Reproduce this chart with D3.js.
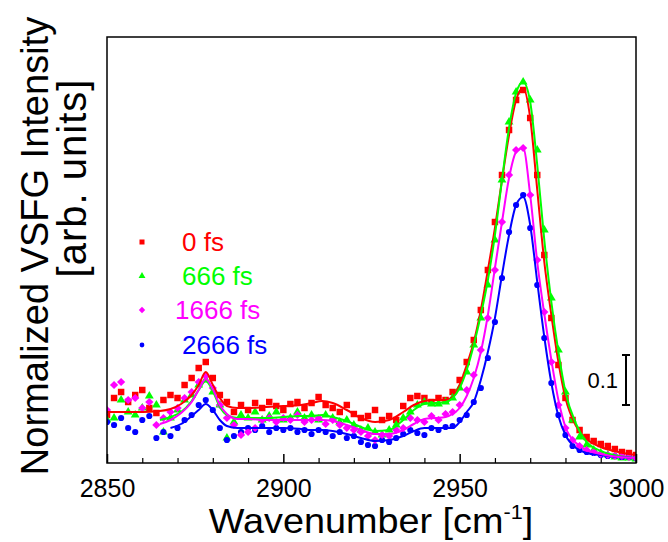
<!DOCTYPE html>
<html>
<head>
<meta charset="utf-8">
<script src="https://cdn.jsdelivr.net/npm/d3@7/dist/d3.min.js"></script>
<style>
  body { margin: 0; background: #fff; }
  text { font-family: Arial, "Liberation Sans", sans-serif; }
</style>
</head>
<body>
<div id="chart"></div>
<script>
// measured points, wavenumber in cm^-1
const pointWn = [2850, 2852, 2854, 2856, 2858, 2860, 2862, 2864, 2866, 2868, 2870, 2872, 2874, 2876, 2878, 2880,
  2882, 2884, 2886, 2888, 2890, 2892, 2894, 2896, 2898, 2900, 2902, 2904, 2906, 2908, 2910, 2912, 2914, 2916,
  2918, 2920, 2922, 2924, 2926, 2928, 2930, 2932, 2934, 2936, 2938, 2940, 2942, 2944, 2946, 2948, 2950, 2952,
  2954, 2956, 2958, 2960, 2962, 2964, 2966, 2968, 2970, 2972, 2974, 2976, 2978, 2980, 2982, 2984, 2986, 2988,
  2990, 2992, 2994, 2996, 2998, 3000];

const pts0 = [0.096, 0.130, 0.142, 0.122, 0.136, 0.146, 0.110, 0.100, 0.126, 0.136, 0.130, 0.156, 0.170, 0.190, 0.202, 0.170,
  0.136, 0.122, 0.102, 0.116, 0.106, 0.120, 0.110, 0.122, 0.114, 0.106, 0.118, 0.122, 0.110, 0.120, 0.132, 0.116, 0.110, 0.102,
  0.116, 0.098, 0.090, 0.094, 0.106, 0.086, 0.094, 0.086, 0.114, 0.130, 0.134, 0.130, 0.122, 0.130, 0.126, 0.142, 0.166, 0.202,
  0.246, 0.306, 0.386, 0.482, 0.576, 0.666, 0.726, 0.746, 0.690, 0.576, 0.416, 0.290, 0.196, 0.130, 0.086, 0.066, 0.052, 0.044,
  0.038, 0.034, 0.028, 0.022, 0.020, 0.016];

const pts666 = [0.086, 0.090, 0.126, 0.102, 0.096, 0.110, 0.134, 0.116, 0.062, 0.090, 0.106, 0.126, 0.136, 0.156, 0.166, 0.142,
  0.116, 0.050, 0.082, 0.096, 0.090, 0.102, 0.086, 0.094, 0.102, 0.086, 0.090, 0.102, 0.090, 0.096, 0.086, 0.096, 0.090, 0.082,
  0.086, 0.076, 0.066, 0.070, 0.062, 0.056, 0.066, 0.076, 0.090, 0.102, 0.116, 0.122, 0.118, 0.118, 0.122, 0.130, 0.150, 0.182,
  0.236, 0.290, 0.356, 0.446, 0.566, 0.682, 0.742, 0.762, 0.726, 0.626, 0.466, 0.330, 0.226, 0.142, 0.086, 0.052, 0.036, 0.026,
  0.020, 0.016, 0.012, 0.010, 0.010, 0.008];

const pts1666 = [0.106, 0.156, 0.162, 0.126, 0.130, 0.110, 0.122, 0.076, 0.090, 0.102, 0.110, 0.130, 0.142, 0.162, 0.174, 0.150,
  0.116, 0.090, 0.076, 0.056, 0.062, 0.070, 0.086, 0.090, 0.082, 0.090, 0.086, 0.096, 0.082, 0.086, 0.090, 0.078, 0.086, 0.076,
  0.070, 0.066, 0.062, 0.054, 0.046, 0.056, 0.054, 0.066, 0.070, 0.090, 0.086, 0.082, 0.094, 0.086, 0.098, 0.102, 0.116, 0.146,
  0.176, 0.226, 0.290, 0.386, 0.482, 0.576, 0.626, 0.630, 0.536, 0.406, 0.302, 0.202, 0.116, 0.070, 0.046, 0.034, 0.026, 0.022,
  0.018, 0.016, 0.014, 0.014, 0.012, 0.010];

const pts2666 = [0.082, 0.076, 0.090, 0.070, 0.062, 0.086, 0.094, 0.050, 0.062, 0.054, 0.070, 0.086, 0.096, 0.116, 0.126, 0.106,
  0.070, 0.046, 0.054, 0.062, 0.070, 0.066, 0.074, 0.062, 0.070, 0.066, 0.070, 0.062, 0.066, 0.058, 0.066, 0.062, 0.054, 0.062,
  0.050, 0.054, 0.042, 0.036, 0.034, 0.046, 0.042, 0.050, 0.058, 0.066, 0.060, 0.056, 0.070, 0.066, 0.072, 0.074, 0.086, 0.096,
  0.122, 0.150, 0.210, 0.282, 0.370, 0.462, 0.516, 0.536, 0.470, 0.356, 0.250, 0.160, 0.096, 0.056, 0.034, 0.026, 0.022, 0.020,
  0.016, 0.014, 0.014, 0.012, 0.012, 0.010];

// fitted curves
const fitWn = [2850, 2855, 2860, 2865, 2868, 2871, 2874, 2876, 2878, 2880, 2882, 2884, 2887, 2890, 2895, 2900, 2905,
  2908, 2911, 2914, 2918, 2922, 2926, 2930, 2934, 2937, 2940, 2943, 2946, 2948, 2950, 2952, 2954, 2956, 2958,
  2960, 2962, 2964, 2966, 2968, 2970, 2972, 2974, 2976, 2978, 2980, 2983, 2986, 2990, 2995, 3000];

const fit0 = [0.102, 0.102, 0.102, 0.104, 0.108, 0.118, 0.136, 0.156, 0.182, 0.156, 0.130, 0.114, 0.110, 0.110, 0.112, 0.114,
  0.116, 0.120, 0.124, 0.120, 0.106, 0.090, 0.082, 0.086, 0.102, 0.116, 0.124, 0.126, 0.126, 0.132, 0.156, 0.196, 0.242, 0.306,
  0.386, 0.470, 0.566, 0.656, 0.726, 0.750, 0.690, 0.546, 0.402, 0.296, 0.202, 0.130, 0.074, 0.048, 0.032, 0.022, 0.016];

const fit666 = [null, null, null, 0.086, 0.092, 0.102, 0.124, 0.146, 0.164, 0.144, 0.112, 0.096, 0.090, 0.090, 0.090, 0.092,
  0.094, 0.094, 0.096, 0.092, 0.084, 0.072, 0.064, 0.066, 0.086, 0.106, 0.118, 0.120, 0.122, 0.130, 0.150, 0.186, 0.236, 0.296,
  0.366, 0.456, 0.566, 0.670, 0.740, 0.762, 0.722, 0.596, 0.446, 0.322, 0.222, 0.142, 0.078, 0.042, 0.024, 0.014, 0.010];

const fit1666 = [null, null, null, 0.078, 0.086, 0.100, 0.122, 0.146, 0.168, 0.148, 0.116, 0.098, 0.088, 0.088, 0.086, 0.086,
  0.086, 0.086, 0.086, 0.084, 0.076, 0.066, 0.058, 0.058, 0.066, 0.078, 0.088, 0.090, 0.092, 0.098, 0.110, 0.134, 0.170, 0.222,
  0.296, 0.390, 0.482, 0.570, 0.622, 0.630, 0.536, 0.402, 0.298, 0.206, 0.126, 0.072, 0.040, 0.026, 0.018, 0.012, 0.010];

const fit2666 = [null, null, null, null, 0.070, 0.078, 0.094, 0.106, 0.118, 0.106, 0.086, 0.074, 0.070, 0.070, 0.070, 0.070,
  0.068, 0.066, 0.066, 0.064, 0.058, 0.050, 0.044, 0.046, 0.054, 0.064, 0.070, 0.070, 0.070, 0.070, 0.082, 0.102, 0.122, 0.166,
  0.222, 0.290, 0.376, 0.456, 0.516, 0.532, 0.476, 0.362, 0.252, 0.160, 0.094, 0.056, 0.030, 0.020, 0.016, 0.012, 0.010];

const delays = ["0 fs", "666 fs", "1666 fs", "2666 fs"];
const xTicks = [2850, 2900, 2950, 3000];
const xMinorTicks = [2860, 2870, 2880, 2890, 2910, 2920, 2930, 2940, 2960, 2970, 2980, 2990];
const scaleBarValue = 0.1;

const W = 668, H = 542;
const plot = { left: 107, right: 636, top: 37, bottom: 463 };

const svg = d3.select("#chart").append("svg")
    .attr("width", W)
    .attr("height", H);

const x = d3.scaleLinear().domain([2850, 3000]).range([plot.left, plot.right]);
const y = d3.scaleLinear().domain([0, 0.852]).range([plot.bottom, plot.top]);

// drawing order: red, green, blue, magenta (magenta sits on top)
const series = [
    { name: delays[0], color: "#ff0000", pts: pts0, fit: fit0, sym: d3.symbolSquare, size: 42, rot: 0 },
    { name: delays[1], color: "#00ff00", pts: pts666, fit: fit666, sym: d3.symbolTriangle, size: 34, rot: 0 },
    { name: delays[3], color: "#0000ff", pts: pts2666, fit: fit2666, sym: d3.symbolCircle, size: 30, rot: 0 },
    { name: delays[2], color: "#ff00ff", pts: pts1666, fit: fit1666, sym: d3.symbolSquare, size: 34, rot: 45 }
];

svg.append("clipPath").attr("id", "clip")
  .append("rect")
    .attr("x", plot.left).attr("y", plot.top)
    .attr("width", plot.right - plot.left).attr("height", plot.bottom - plot.top);

const line = d3.line()
    .defined(d => d[1] != null)
    .x(d => x(d[0]))
    .y(d => y(d[1]))
    .curve(d3.curveMonotoneX);

const dataG = svg.append("g").attr("clip-path", "url(#clip)");

series.forEach(s => {
    dataG.append("g").selectAll("path")
        .data(pointWn.map((w, i) => [w, s.pts[i]]))
        .enter().append("path")
        .attr("d", d3.symbol().type(s.sym).size(s.size))
        .attr("transform", d => `translate(${x(d[0])},${y(d[1])}) rotate(${s.rot})`)
        .attr("fill", s.color);
});

series.forEach(s => {
    dataG.append("path")
        .datum(fitWn.map((w, i) => [w, s.fit[i]]))
        .attr("d", line)
        .attr("fill", "none")
        .attr("stroke", s.color)
        .attr("stroke-width", 2);
});

// frame
svg.append("rect")
    .attr("x", plot.left).attr("y", plot.top)
    .attr("width", plot.right - plot.left).attr("height", plot.bottom - plot.top)
    .attr("fill", "none")
    .attr("stroke", "#000")
    .attr("stroke-width", 1.5);

// bottom axis, ticks pointing inward
const xAxis = svg.append("g")
    .attr("transform", `translate(0,${plot.bottom})`)
    .call(d3.axisBottom(x).tickValues(xTicks).tickSizeInner(-9).tickSizeOuter(0).tickPadding(16).tickFormat(d3.format("d")));
xAxis.select(".domain").remove();
xAxis.selectAll("line").attr("stroke-width", 1.5);
xAxis.selectAll("text")
    .style("font-family", "Arial, 'Liberation Sans', sans-serif")
    .style("font-size", "25px")
    .attr("fill", "#000");

const xMinor = svg.append("g")
    .attr("transform", `translate(0,${plot.bottom})`)
    .call(d3.axisBottom(x).tickValues(xMinorTicks).tickSizeInner(-5).tickSizeOuter(0).tickFormat(""));
xMinor.select(".domain").remove();
xMinor.selectAll("line").attr("stroke-width", 1.2);

// axis titles
const xTitle = svg.append("text")
    .attr("transform", "translate(371,533) scale(1.08,1)")
    .attr("text-anchor", "middle")
    .style("font-size", "35px")
    .attr("fill", "#000");
xTitle.append("tspan").text("Wavenumber [cm");
xTitle.append("tspan").attr("dy", -14).style("font-size", "20px").text("-1");
xTitle.append("tspan").attr("dy", 14).text("]");

svg.append("text")
    .attr("transform", "translate(48,246) rotate(-90)")
    .attr("text-anchor", "middle")
    .style("font-size", "38px")
    .attr("fill", "#000")
    .text("Normalized VSFG Intensity");

svg.append("text")
    .attr("transform", "translate(86,178) rotate(-90)")
    .attr("text-anchor", "middle")
    .style("font-size", "40px")
    .style("letter-spacing", "1px")
    .attr("fill", "#000")
    .text("[arb. units]");

// legend
const legendOrder = [0, 1, 3, 2];
const legendY = [242, 276, 310, 345];
const legendTextX = [182, 182, 175, 182];
legendOrder.forEach((si, i) => {
    const s = series[si];
    svg.append("path")
        .attr("d", d3.symbol().type(s.sym).size(s.size * 0.6))
        .attr("transform", `translate(142,${legendY[i]}) rotate(${s.rot})`)
        .attr("fill", s.color);
    svg.append("text")
        .attr("x", legendTextX[i])
        .attr("y", legendY[i] + 9)
        .style("font-size", "26px")
        .attr("fill", s.color)
        .text(s.name);
});

// scale bar
const barX = 626, barBase = 0.116;
const bar = svg.append("g").attr("stroke", "#000").attr("stroke-width", 2);
bar.append("line").attr("x1", barX).attr("x2", barX).attr("y1", y(barBase)).attr("y2", y(barBase + scaleBarValue));
bar.append("line").attr("x1", barX - 4).attr("x2", barX + 4).attr("y1", y(barBase)).attr("y2", y(barBase));
bar.append("line").attr("x1", barX - 4).attr("x2", barX + 4).attr("y1", y(barBase + scaleBarValue)).attr("y2", y(barBase + scaleBarValue));
svg.append("text")
    .attr("x", 618)
    .attr("y", y(barBase + scaleBarValue / 2) + 8)
    .attr("text-anchor", "end")
    .style("font-size", "22px")
    .attr("fill", "#000")
    .text(scaleBarValue);
</script>
</body>
</html>
